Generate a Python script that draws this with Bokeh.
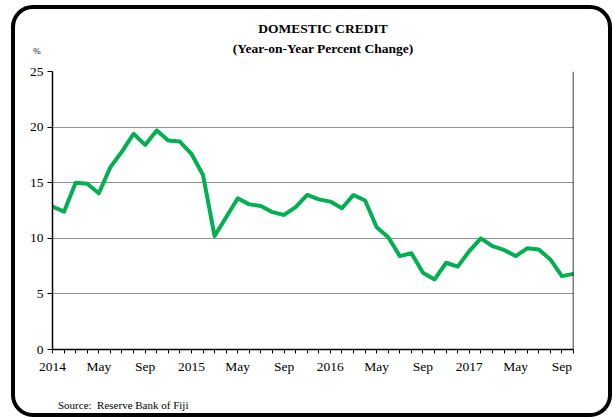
from bokeh.plotting import figure
from bokeh.models import Range1d, FixedTicker, Span, Div
from bokeh.layouts import column
from bokeh.embed import file_html
from bokeh.resources import INLINE

# Monthly index: 0 = Jan 2014 ... 45 = Oct 2017
months = list(range(46))
credit_growth = [12.85, 12.4, 15.0, 14.9, 14.05, 16.4, 17.8, 19.4, 18.4, 19.7,
                 18.8, 18.7, 17.6, 15.7, 10.2, 11.9, 13.6, 13.05, 12.9, 12.35,
                 12.1, 12.8, 13.9, 13.5, 13.3, 12.7, 13.9, 13.4, 11.0, 10.1,
                 8.4, 8.65, 6.9, 6.3, 7.8, 7.45, 8.85, 10.0, 9.3, 8.95,
                 8.4, 9.1, 9.0, 8.1, 6.6, 6.8]
tick_labels = {0: "2014", 4: "May", 8: "Sep", 12: "2015", 16: "May", 20: "Sep",
               24: "2016", 28: "May", 32: "Sep", 36: "2017", 40: "May", 44: "Sep"}
y_ticks = [0, 5, 10, 15, 20, 25]
title_text = "DOMESTIC CREDIT"
subtitle_text = "(Year-on-Year Percent Change)"
unit_text = "%"
source_text = "Source:&nbsp; Reserve Bank of Fiji"

SERIF = "Liberation Serif"
FONT_CSS = "font-family:'Liberation Serif','Times New Roman',serif;color:black;"
SPAN = "position:absolute;white-space:nowrap;line-height:1;transform:translate(-50%,-50%);"

header = Div(width=593, height=42, text=(
    f'<div style="position:relative;width:593px;height:42px;{FONT_CSS}">'
    f'<span style="{SPAN}left:303px;top:15px;font-size:13.5px;font-weight:bold;">{title_text}</span>'
    f'<span style="{SPAN}left:303px;top:35px;font-size:13.5px;font-weight:bold;">{subtitle_text}</span>'
    f'<span style="{SPAN}left:17px;top:37px;font-size:9px;color:#000;">{unit_text}</span>'
    '</div>'))

footer = Div(width=593, height=33, text=(
    f'<div style="position:relative;width:593px;height:33px;{FONT_CSS}">'
    f'<span style="position:absolute;white-space:nowrap;line-height:1;transform:translate(0,-50%);'
    f'left:38px;top:21px;font-size:11px;">{source_text}</span>'
    '</div>'))

p = figure(width=593, height=318, output_backend="svg", toolbar_location=None,
           x_range=Range1d(0, 45), y_range=Range1d(0, 25),
           min_border_left=37, min_border_right=35, min_border_top=10,
           min_border_bottom=30)
p.outline_line_color = None
p.background_fill_color = "white"
p.border_fill_color = None

p.line(months, credit_growth, line_color="#00B050", line_width=4,
       line_join="round", line_cap="round")

# x axis
p.xaxis.ticker = FixedTicker(ticks=months)
p.xaxis.major_label_overrides = {m: tick_labels.get(m, "") for m in months}
p.xaxis.major_tick_in = 0
p.xaxis.major_tick_out = 4
p.xaxis.minor_tick_line_color = None
p.xaxis.major_label_standoff = 5
p.xaxis.major_label_text_font = SERIF
p.xaxis.major_label_text_font_size = "13.5px"
p.xaxis.major_label_text_color = "black"
p.xaxis.axis_line_color = "black"
p.xaxis.axis_line_width = 1.5
p.xaxis.major_tick_line_color = "black"

# y axis
p.yaxis.ticker = FixedTicker(ticks=y_ticks)
p.yaxis.major_tick_in = 0
p.yaxis.major_tick_out = 5
p.yaxis.minor_tick_line_color = None
p.yaxis.major_label_standoff = 4
p.yaxis.major_label_text_font = SERIF
p.yaxis.major_label_text_font_size = "13.5px"
p.yaxis.major_label_text_color = "black"
p.yaxis.axis_line_color = "black"
p.yaxis.axis_line_width = 1.5
p.yaxis.major_tick_line_color = "black"

p.xgrid.grid_line_color = None
p.ygrid.ticker = FixedTicker(ticks=y_ticks[1:])
p.ygrid.grid_line_color = "#222222"
p.ygrid.grid_line_dash = "1 1"
p.ygrid.grid_line_width = 1

p.add_layout(Span(location=45, dimension="height", line_color="black", line_width=1.5))

layout = column(header, p, footer, width=601, height=412,
                styles={"border": "4px solid black", "border-radius": "22px",
                        "margin-left": "11px", "margin-top": "5px",
                        "background": "white", "box-sizing": "border-box"})

open("out.html", "w").write(file_html(layout, INLINE))
